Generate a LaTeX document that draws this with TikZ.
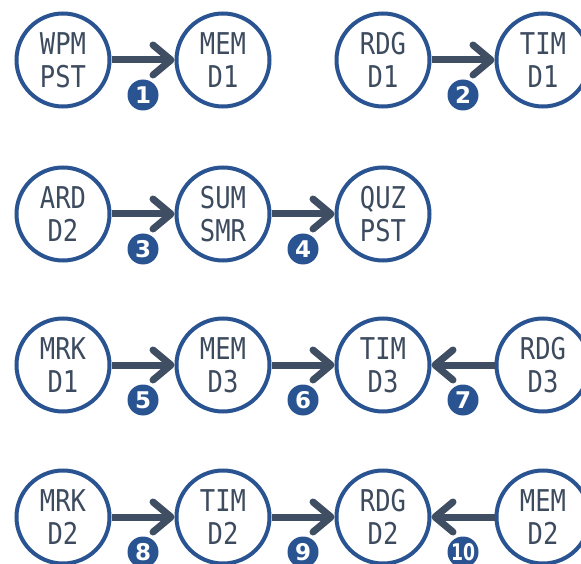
\documentclass[tikz,border=0pt]{standalone}
\usepackage{fontspec}
\usetikzlibrary{arrows.meta}
\newfontfamily\nodefont[FakeStretch=0.85]{DejaVu Sans Mono}
\newfontfamily\badgefont{DejaVu Sans}
\newfontfamily\badgenarrow[FakeStretch=0.75]{DejaVu Sans}
\definecolor{ringblue}{RGB}{42,84,145}
\definecolor{txtgray}{RGB}{61,75,95}
\definecolor{arrowgray}{RGB}{63,78,99}
\tikzset{
  ring/.style={circle, draw=ringblue, line width=4pt, fill=white, minimum size=93pt, inner sep=0pt,
    text=txtgray, align=center, font=\nodefont\fontsize{30}{33}\selectfont},
  conn/.style={draw=arrowgray, line width=7pt,
    -{Straight Barb[length=18pt, width=30pt, round]}},
  badge/.style={circle, fill=ringblue, minimum size=31pt, inner sep=0pt, text=white,
    font=\badgefont\bfseries\fontsize{23}{23}\selectfont},
  widebadge/.style={badge, font=\badgenarrow\bfseries\fontsize{23}{23}\selectfont},
}
\begin{document}
\begin{tikzpicture}[x=1pt, y=-1pt]
\useasboundingbox (0,0) rectangle (581,564);
% row 1
\node[ring] (a1) at (63,60) {WPM\\PST};
\node[ring] (a2) at (223,60) {MEM\\D1};
\node[ring] (a3) at (383,60) {RDG\\D1};
\node[ring] (a4) at (543,60) {TIM\\D1};
% row 2
\node[ring] (b1) at (63,214) {ARD\\D2};
\node[ring] (b2) at (223,214) {SUM\\SMR};
\node[ring] (b3) at (383,214) {QUZ\\PST};
% row 3
\node[ring] (c1) at (63,365) {MRK\\D1};
\node[ring] (c2) at (223,365) {MEM\\D3};
\node[ring] (c3) at (383,365) {TIM\\D3};
\node[ring] (c4) at (543,365) {RDG\\D3};
% row 4
\node[ring] (d1) at (63,517) {MRK\\D2};
\node[ring] (d2) at (223,517) {TIM\\D2};
\node[ring] (d3) at (383,517) {RDG\\D2};
\node[ring] (d4) at (543,517) {MEM\\D2};
% connectors
\draw[conn] (a1) -- (a2);
\draw[conn] (a3) -- (a4);
\draw[conn] (b1) -- (b2);
\draw[conn] (b2) -- (b3);
\draw[conn] (c1) -- (c2);
\draw[conn] (c2) -- (c3);
\draw[conn] (c4) -- (c3);
\draw[conn] (d1) -- (d2);
\draw[conn] (d2) -- (d3);
\draw[conn] (d4) -- (d3);
% badges
\node[badge] (n1) at (143,95) {1};
\node[badge] (n2) at (463,95) {2};
\node[badge] (n3) at (143,249) {3};
\node[badge] (n4) at (303,249) {4};
\node[badge] (n5) at (143,400) {5};
\node[badge] (n6) at (303,400) {6};
\node[badge] (n7) at (463,400) {7};
\node[badge] (n8) at (143,552) {8};
\node[badge] (n9) at (303,552) {9};
\node[widebadge] (n10) at (463,552) {10};
\end{tikzpicture}
\end{document}
